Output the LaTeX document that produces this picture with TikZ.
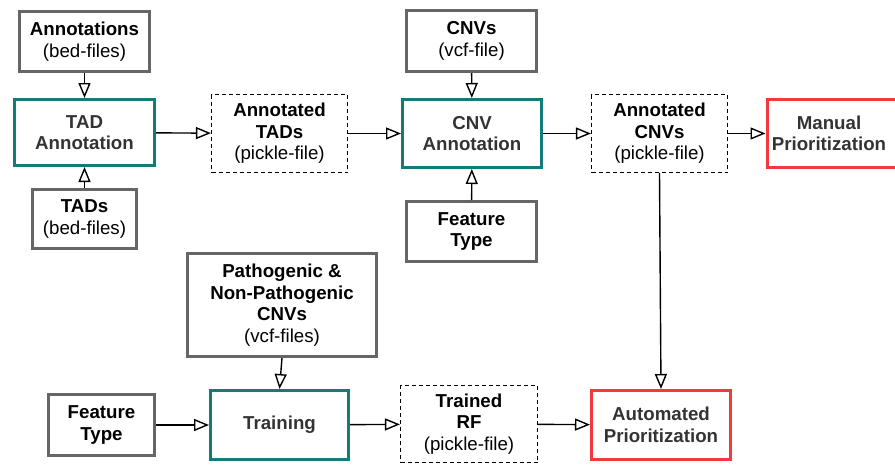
\documentclass[tikz,border=0pt]{standalone}
\usepackage{fontspec}
\setmainfont{Liberation Sans}
\usetikzlibrary{arrows.meta}
\definecolor{boxgray}{HTML}{666666}
\definecolor{tealbox}{HTML}{137B79}
\definecolor{redbox}{HTML}{F2393C}
\definecolor{txtgray}{HTML}{333333}
\begin{document}
\begin{tikzpicture}[x=1pt,y=-1pt,
 every node/.style={font=\fontsize{18.7}{21.5}\selectfont, align=center, inner sep=0pt},
 inbox/.style={draw=boxgray, line width=3pt, fill=white},
 procbox/.style={draw=tealbox, line width=3pt, text=txtgray, font=\fontsize{18.7}{21.5}\selectfont\bfseries},
 outbox/.style={draw=redbox, line width=3pt, text=txtgray, font=\fontsize{18.7}{21.5}\selectfont\bfseries},
 filebox/.style={draw=black, line width=1.2pt, dash pattern=on 4pt off 3pt},
 conn/.style={-{Triangle[open,length=15pt,width=12pt,line width=1.4pt]}, line width=1.4pt}]
\useasboundingbox (0,0) rectangle (895,464);
\clip (0,0) rectangle (895,464);
% top-left branch
\node[inbox, minimum width=130pt, minimum height=60pt] (ann) at (84.5,41.5) {\textbf{Annotations}\\(bed-files)};
\node[procbox, minimum width=140pt, minimum height=66pt] (tadann) at (84.5,132.5) {TAD\\Annotation};
\node[inbox, minimum width=104pt, minimum height=59pt] (tads) at (84.5,219) {\textbf{TADs}\\(bed-files)};
\node[filebox, minimum width=136pt, minimum height=78pt] (atads) at (279.5,133.5) {\textbf{Annotated}\\\textbf{TADs}\\(pickle-file)};
% CNV annotation
\node[inbox, minimum width=130pt, minimum height=61pt] (cnvs) at (471.5,41) {\textbf{CNVs}\\(vcf-file)};
\node[procbox, minimum width=139pt, minimum height=68pt] (cnvann) at (472,133.5) {CNV\\Annotation};
\node[inbox, minimum width=130pt, minimum height=60pt] (ft1) at (471.5,231.5) {\textbf{Feature}\\\textbf{Type}};
\node[filebox, minimum width=136pt, minimum height=78pt] (acnvs) at (659.5,133.5) {\textbf{Annotated}\\\textbf{CNVs}\\(pickle-file)};
\node[outbox, minimum width=139pt, minimum height=68pt, anchor=west] (manual) at (765.5,133.5) {};
\node[text=txtgray, font=\fontsize{18.7}{21.5}\selectfont\bfseries] (manualtxt) at (829,133.5) {Manual\\Prioritization};
% training
\node[inbox, minimum width=189pt, minimum height=103pt] (patho) at (282,305) {\textbf{Pathogenic \&}\\\textbf{Non-Pathogenic}\\\textbf{CNVs}\\(vcf-files)};
\node[procbox, minimum width=138pt, minimum height=69pt] (train) at (279.5,425) {Training};
\node[inbox, minimum width=106pt, minimum height=61pt] (ft2) at (101.5,425) {\textbf{Feature}\\\textbf{Type}};
\node[filebox, minimum width=137pt, minimum height=77pt] (trf) at (469,424) {\textbf{Trained}\\\textbf{RF}\\(pickle-file)};
\node[outbox, minimum width=139pt, minimum height=69pt] (auto) at (661,425) {Automated\\Prioritization};
% connectors
\draw[conn] (ann) -- (tadann);
\draw[conn] (tads) -- (tadann);
\draw[conn] (tadann) -- (atads);
\draw[conn] (atads) -- (cnvann);
\draw[conn] (cnvs) -- (cnvann);
\draw[conn] (ft1) -- (cnvann);
\draw[conn] (cnvann) -- (acnvs);
\draw[conn] (acnvs) -- (manual.west);
\draw[conn] (acnvs.south) -- (auto.north);
\draw[conn] (patho.south) -- (train.north);
\draw[conn] (ft2) -- (train);
\draw[conn] (train) -- (trf);
\draw[conn] (trf) -- (auto);
\end{tikzpicture}
\end{document}
